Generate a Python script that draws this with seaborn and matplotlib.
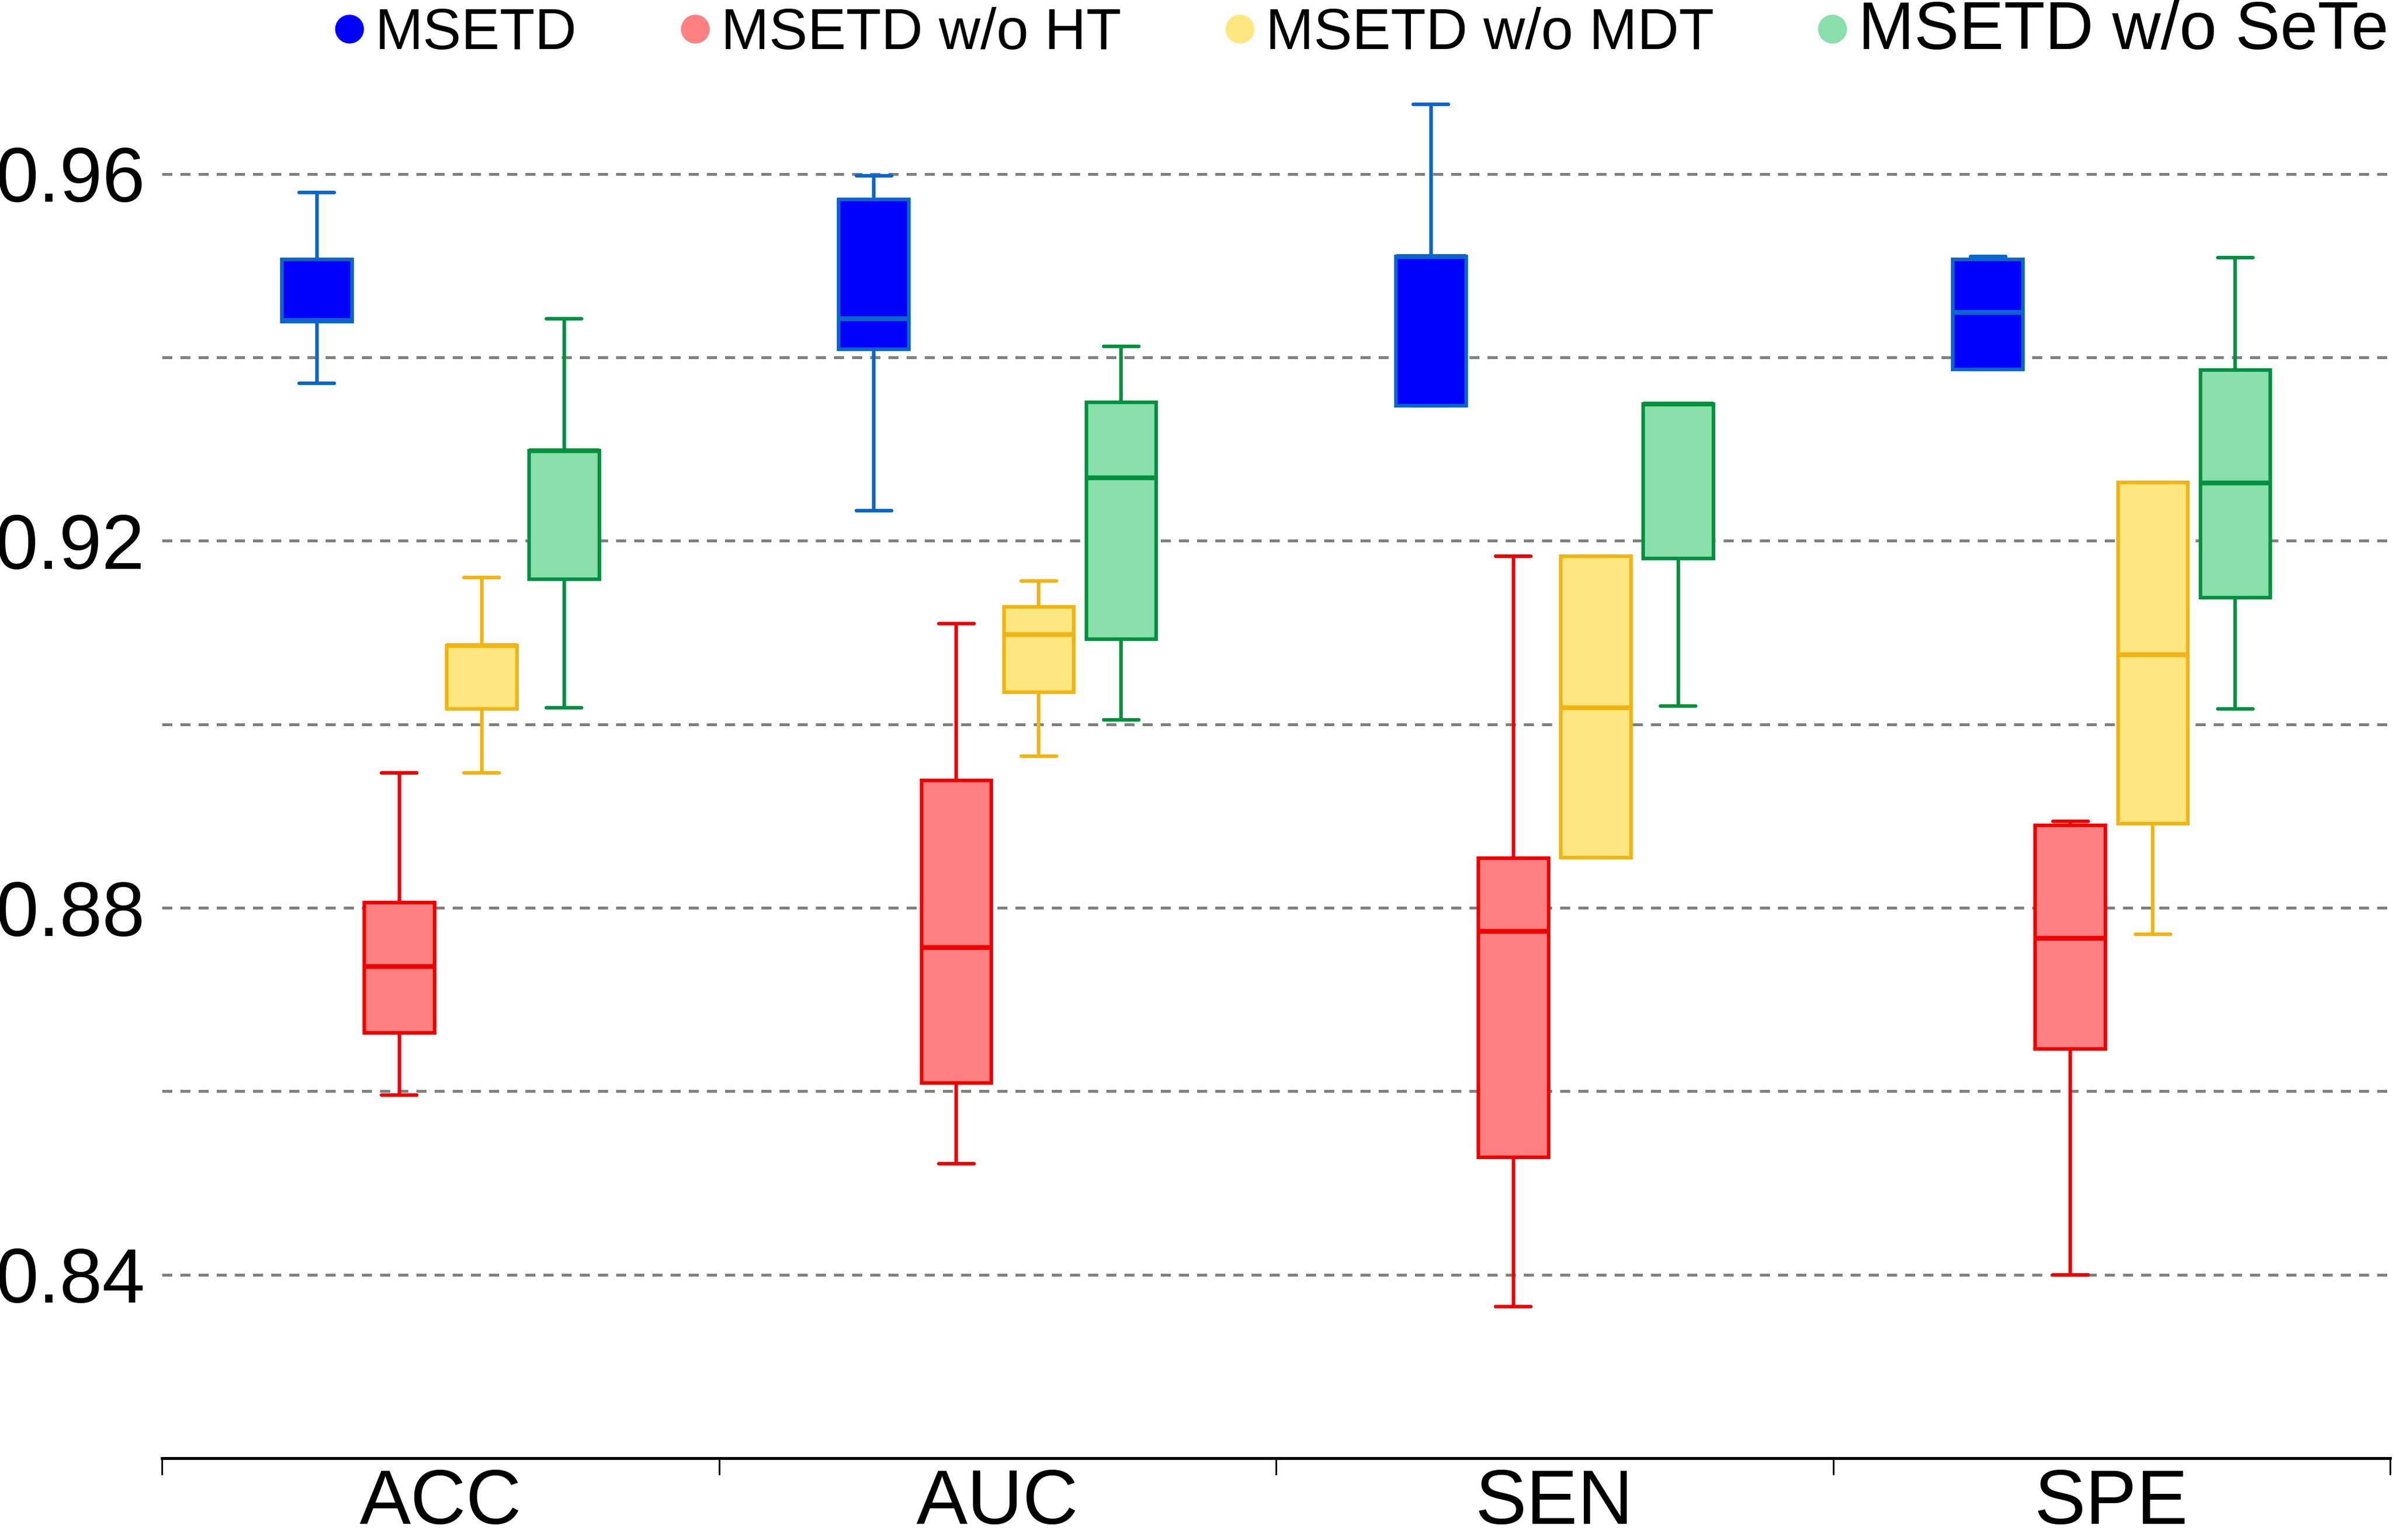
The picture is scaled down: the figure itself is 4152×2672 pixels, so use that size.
import matplotlib
matplotlib.use("Agg")
import matplotlib.pyplot as plt
import matplotlib.ticker as mticker
from matplotlib.lines import Line2D
import seaborn as sns
import pandas as pd

metrics = ["ACC", "AUC", "SEN", "SPE"]
models = ["MSETD", "MSETD w/o HT", "MSETD w/o MDT", "MSETD w/o SeTe"]

# five values per box (min, q1, median, q3, max), one list per metric
msetd = [[0.9372, 0.9439, 0.9440, 0.9507, 0.9580],
         [0.9233, 0.9409, 0.9442, 0.9572, 0.9598],
         [0.9347, 0.9347, 0.9510, 0.9510, 0.9676],
         [0.9387, 0.9387, 0.9449, 0.9507, 0.9510]]
wo_ht = [[0.8596, 0.8664, 0.8736, 0.8806, 0.8947],
         [0.8521, 0.8609, 0.8757, 0.8939, 0.9110],
         [0.8365, 0.8528, 0.8774, 0.8854, 0.9183],
         [0.8400, 0.8646, 0.8767, 0.8890, 0.8894]]
wo_mdt = [[0.8947, 0.9017, 0.9086, 0.9086, 0.9160],
          [0.8965, 0.9035, 0.9098, 0.9128, 0.9156],
          [0.8855, 0.8855, 0.9018, 0.9183, 0.9183],
          [0.8771, 0.8892, 0.9076, 0.9264, 0.9264]]
wo_sete = [[0.9018, 0.9158, 0.9298, 0.9298, 0.9442],
           [0.9005, 0.9093, 0.9269, 0.9351, 0.9412],
           [0.9020, 0.9181, 0.9349, 0.9349, 0.9349],
           [0.9017, 0.9138, 0.9263, 0.9386, 0.9509]]

face_colors = ["#0000FF", "#FF8080", "#FFE680", "#88DFAA"]
edge_colors = ["#0A66C8", "#EE0000", "#F0B414", "#00913F"]

rows = []
for model, values in zip(models, [msetd, wo_ht, wo_mdt, wo_sete]):
    for metric, vals in zip(metrics, values):
        for v in vals:
            rows.append({"metric": metric, "model": model, "value": v})
df = pd.DataFrame(rows)

sns.set_style("white")
plt.rcParams['font.family'] = ['Liberation Sans', 'DejaVu Sans']

fig = plt.figure(figsize=(13.84, 8.9067), dpi=300)
ax = fig.add_axes([0.0677, 0.0531, 0.9311, 0.9412])

palette = dict(zip(models, face_colors))
for model, edge in zip(models, edge_colors):
    sns.boxplot(data=df[df.model == model], x="metric", y="value",
                hue="model", order=metrics, hue_order=models,
                palette=palette, linecolor=edge, linewidth=1.5,
                width=0.592, gap=0.15, dodge=True, whis=(0, 100),
                saturation=1, fliersize=0, legend=False,
                medianprops={"linewidth": 2.0}, ax=ax)

ax.set_xlim(-0.5, 3.5)
ax.set_ylim(0.82, 0.978)
ax.set_xlabel("")
ax.set_ylabel("")

ax.yaxis.set_major_locator(mticker.FixedLocator([0.84, 0.88, 0.92, 0.96]))
ax.yaxis.set_major_formatter(mticker.FormatStrFormatter("%.2f"))
ax.yaxis.set_minor_locator(mticker.FixedLocator([0.86, 0.90, 0.94]))
ax.grid(True, axis="y", which="both", color="#808080", linewidth=1.2,
        linestyle=(0, (3.5, 2.8)))
ax.set_axisbelow(True)
ax.tick_params(axis="y", which="both", length=0, pad=7, labelsize=32,
               labelcolor="black")

ax.set_xticks([-0.5, 0.5, 1.5, 2.5, 3.5], labels=[])
ax.set_xticks(range(4), labels=metrics, minor=True)
ax.tick_params(axis="x", which="major", bottom=True, length=7, width=0.7,
               color="black", direction="out")
ax.tick_params(axis="x", which="minor", bottom=True, length=0, pad=4,
               labelsize=32, labelcolor="black")

for side in ["top", "right", "left"]:
    ax.spines[side].set_visible(False)
ax.spines["bottom"].set_color("black")
ax.spines["bottom"].set_linewidth(1.2)

handles = [Line2D([], [], marker="o", linestyle="", markersize=11,
                  markerfacecolor=c, markeredgecolor=c) for c in face_colors]
leg = fig.legend(handles, models, loc="upper left",
                 bbox_to_anchor=(576 / 4152, 1.0), ncol=4, frameon=False,
                 fontsize=24, handlelength=0.6, handletextpad=0.15,
                 columnspacing=1.75, borderpad=0, borderaxespad=0)
for t in leg.get_texts():
    t.set_color("black")
leg.get_texts()[-1].set_fontsize(28)

fig.savefig("out.png", dpi=300)
